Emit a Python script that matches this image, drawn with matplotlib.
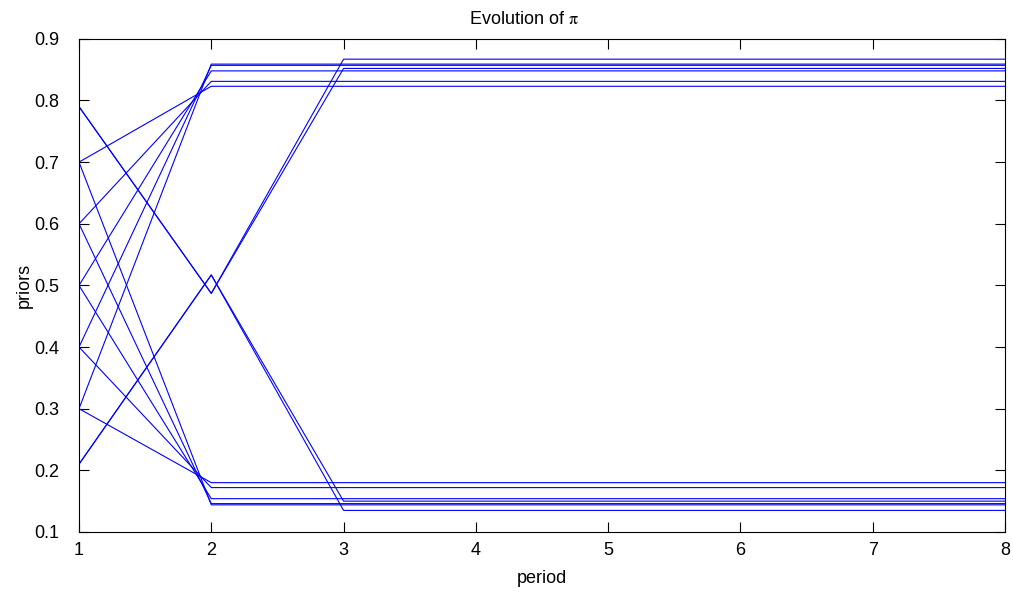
import matplotlib
matplotlib.use("Agg")
import matplotlib.pyplot as plt

plt.rcParams['font.family'] = ['Liberation Sans', 'DejaVu Sans']
plt.rcParams['mathtext.fontset'] = 'stix'

periods = [1, 2, 3, 4, 5, 6, 7, 8]

# belief paths, one row per simulated agent
paths_up = [
    [0.70, 0.823, 0.823, 0.823, 0.823, 0.823, 0.823, 0.823],
    [0.60, 0.831, 0.831, 0.831, 0.831, 0.831, 0.831, 0.831],
    [0.50, 0.848, 0.848, 0.848, 0.848, 0.848, 0.848, 0.848],
    [0.40, 0.857, 0.857, 0.857, 0.857, 0.857, 0.857, 0.857],
    [0.30, 0.859, 0.859, 0.859, 0.859, 0.859, 0.859, 0.859],
]
paths_down = [
    [0.30, 0.180, 0.180, 0.180, 0.180, 0.180, 0.180, 0.180],
    [0.40, 0.172, 0.172, 0.172, 0.172, 0.172, 0.172, 0.172],
    [0.50, 0.154, 0.154, 0.154, 0.154, 0.154, 0.154, 0.154],
    [0.60, 0.146, 0.146, 0.146, 0.146, 0.146, 0.146, 0.146],
    [0.70, 0.144, 0.144, 0.144, 0.144, 0.144, 0.144, 0.144],
]
paths_switch = [
    [0.79, 0.487, 0.867, 0.867, 0.867, 0.867, 0.867, 0.867],
    [0.79, 0.487, 0.852, 0.852, 0.852, 0.852, 0.852, 0.852],
    [0.21, 0.517, 0.150, 0.150, 0.150, 0.150, 0.150, 0.150],
    [0.21, 0.517, 0.135, 0.135, 0.135, 0.135, 0.135, 0.135],
]

yticks = [0.1, 0.2, 0.3, 0.4, 0.5, 0.6, 0.7, 0.8, 0.9]

fig = plt.figure(figsize=(10.13, 5.92), dpi=100)
ax = fig.add_axes([0.078, 0.1014, 0.914, 0.833])

for path in paths_up + paths_down + paths_switch:
    ax.plot(periods, path, color=(0, 0, 1), linewidth=0.8)

ax.set_xlim(1, 8)
ax.set_ylim(0.1, 0.9)
ax.set_xticks(periods)
ax.set_yticks(yticks)
ax.set_yticklabels([f"{v:.1f}" for v in yticks])
ax.tick_params(direction='in', length=7, width=0.8, top=True, right=True,
               labelsize=13)
ax.tick_params(axis='x', pad=7)
ax.tick_params(axis='y', pad=14)
for spine in ax.spines.values():
    spine.set_linewidth(0.8)

ax.set_xlabel("period", fontsize=13, labelpad=8)
ax.set_ylabel("priors", fontsize=13, labelpad=1)
ax.set_title(r"Evolution of $\mathrm{\pi}$", fontsize=13, pad=11, x=0.48)

fig.savefig("out.png", dpi=100)
